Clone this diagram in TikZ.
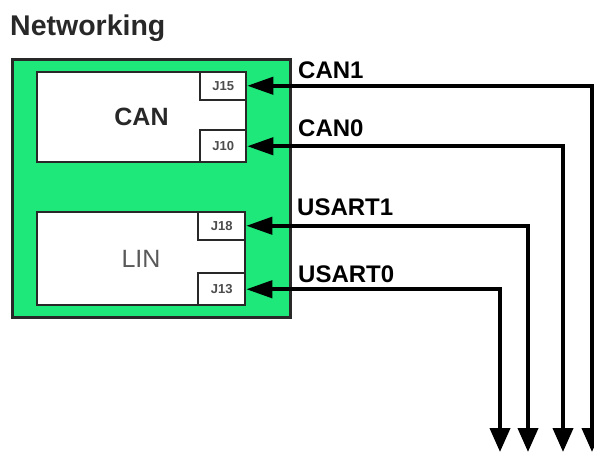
\documentclass[tikz,border=0pt]{standalone}
\usepackage{fontspec}
\setmainfont{Liberation Sans}
\usetikzlibrary{arrows.meta}
\definecolor{vert}{RGB}{30,232,122}
\definecolor{bord}{RGB}{40,40,40}
\begin{document}
\begin{tikzpicture}[x=1pt,y=-1pt,
	bloc/.style={draw=bord,line width=2.5pt,fill=white,inner sep=0pt,font=\fontsize{25}{25}\bfseries\selectfont,text=bord},
	port/.style={draw=bord,line width=2pt,fill=white,minimum width=46pt,minimum height=28pt,inner sep=0pt,font=\fontsize{13}{13}\bfseries\selectfont,text=gray!60!black},
	fil/.style={line width=4pt,{Triangle[length=26pt,width=17pt]}-{Triangle[length=24pt,width=20pt]}},
	etiq/.style={anchor=base west,inner sep=0pt,font=\fontsize{24}{24}\bfseries\selectfont}]
	\useasboundingbox (0,0) rectangle (594,455);
	\node[anchor=base west,inner sep=0pt,font=\fontsize{28.5}{28.5}\bfseries\selectfont,text=bord] (titre) at (10,35) {Networking};
	\node[draw=bord,line width=3pt,fill=vert,minimum width=278pt,minimum height=258pt] (net) at (151,188) {}; % le fond vert
	\node[bloc,minimum width=209pt,minimum height=90pt] (can) at (141.5,117) {CAN};
	\node[bloc,minimum width=208pt,minimum height=93pt,font=\fontsize{25}{25}\selectfont,text=gray!70!black] (lin) at (141,258.5) {LIN};
	\node[port,anchor=north east] (j15) at (can.north east) {J15};
	\node[port,anchor=south east,minimum height=32pt] (j10) at (can.south east) {J10};
	\node[port,anchor=north east,minimum width=47pt] (j18) at (lin.north east) {J18};
	\node[port,anchor=south east,minimum width=47pt,minimum height=32pt] (j13) at (lin.south east) {J13};
	% les bouts en bas
	\coordinate (c1) at (592,452);
	\coordinate (c0) at (563,452);
	\coordinate (u1) at (528,452);
	\coordinate (u0) at (500,452);
	\draw[fil] (j15.east) -| (c1);
	\draw[fil] (j10.east) -| (c0);
	\draw[fil] (j18.east) -| (u1);
	\draw[fil] (j13.east) -| (u0);
	\node[etiq] (lcan1) at (298,78) {CAN1};
	\node[etiq] (lcan0) at (298,136) {CAN0};
	\node[etiq] (lus1) at (297,215) {USART1};
	\node[etiq] (lus0) at (298,282) {USART0};
\end{tikzpicture}
\end{document}
